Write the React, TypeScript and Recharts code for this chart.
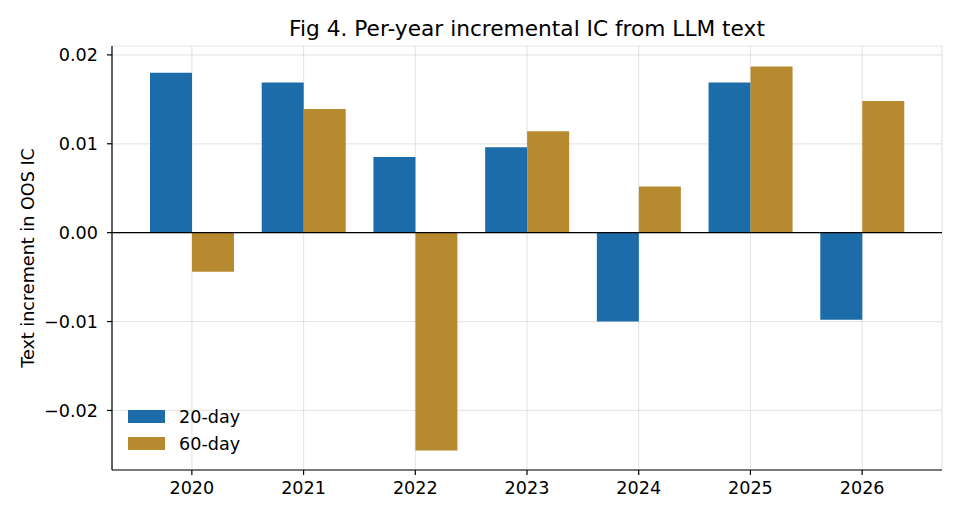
import React from 'react';
import { BarChart, Bar, XAxis, YAxis, CartesianGrid, ReferenceLine } from 'recharts';

// Per-year incremental out-of-sample IC attributable to LLM text features
const years = ['2020', '2021', '2022', '2023', '2024', '2025', '2026'];
const ic20 = [0.0180, 0.0169, 0.0085, 0.0096, -0.0100, 0.0169, -0.0098];
const ic60 = [-0.0044, 0.0139, -0.0245, 0.0114, 0.0052, 0.0187, 0.0148];
const yTicks = [-0.02, -0.01, 0, 0.01, 0.02];

const seriesNames = ['20-day', '60-day'];
const BLUE = '#1b6ca8';
const GOLD = '#b88a30';
const FONT = '"DejaVu Sans", sans-serif';
const FS = 17.6;

const data = years.map((year, i) => ({ year, ic20: ic20[i], ic60: ic60[i] }));

const fmtTick = (v: number) => v.toFixed(2).replace('-', '\u2212');

const W = 962;
const H = 520;

function LegendBox() {
  const items = [
    { name: seriesNames[0], color: BLUE },
    { name: seriesNames[1], color: GOLD },
  ];
  return (
    <div style={{ position: 'absolute', left: 128, top: 403, fontFamily: FONT, fontSize: FS, color: '#000' }}>
      {items.map((it) => (
        <div key={it.name} style={{ display: 'flex', alignItems: 'center', height: 27 }}>
          <span style={{ display: 'inline-block', width: 37, height: 13, background: it.color, marginRight: 14 }} />
          <span>{it.name}</span>
        </div>
      ))}
    </div>
  );
}

function YLabel(props: any) {
  const vb = props.viewBox || { x: 0, y: 0, width: 0, height: 0 };
  const cx = vb.x + 28;
  const cy = vb.y + vb.height / 2;
  return (
    <text
      x={cx}
      y={cy}
      transform={`rotate(-90, ${cx}, ${cy})`}
      textAnchor="middle"
      dominantBaseline="central"
      fontFamily={FONT}
      fontSize={FS}
      fill="#000"
    >
      Text increment in OOS IC
    </text>
  );
}

export default function App() {
  return (
    <div style={{ position: 'absolute', left: 0, top: 0, width: W, height: H, background: '#fff' }}>
      <svg width={W} height={46} style={{ position: 'absolute', left: 0, top: 0 }}>
        <text x={527} y={36} textAnchor="middle" fontFamily={FONT} fontSize={21.7} fill="#000">
          Fig 4. Per-year incremental IC from LLM text
        </text>
      </svg>
      <div style={{ position: 'absolute', left: 0, top: 0 }}>
        <BarChart
          width={W}
          height={H}
          data={data}
          margin={{ top: 46, right: 20, bottom: 20, left: 0 }}
          barGap={0}
        >
          <XAxis
            dataKey="year"
            padding={{ left: 24, right: 24 }}
            tickLine={{ stroke: '#000', strokeWidth: 1.2 }}
            axisLine={{ stroke: '#000', strokeWidth: 1.2 }}
            tickSize={5}
            tickMargin={7}
            height={30}
            tick={{ fill: '#000', fontFamily: FONT, fontSize: FS }}
          />
          <YAxis
            type="number"
            domain={[-0.0267, 0.0210]}
            ticks={yTicks}
            tickFormatter={fmtTick}
            allowDataOverflow
            width={112}
            tickLine={{ stroke: '#000', strokeWidth: 1.2 }}
            axisLine={{ stroke: '#000', strokeWidth: 1.2 }}
            tickSize={5}
            tickMargin={9}
            tick={{ fill: '#000', fontFamily: FONT, fontSize: FS }}
            label={<YLabel />}
          />
          <Bar dataKey="ic20" name={seriesNames[0]} fill={BLUE} barSize={42} isAnimationActive={false} />
          <Bar dataKey="ic60" name={seriesNames[1]} fill={GOLD} barSize={42} isAnimationActive={false} />
          <CartesianGrid stroke="#b0b0b0" strokeOpacity={0.3} strokeWidth={1.2} />
          <ReferenceLine y={0} stroke="#000" strokeWidth={1.1} />
        </BarChart>
      </div>
      <LegendBox />
    </div>
  );
}
